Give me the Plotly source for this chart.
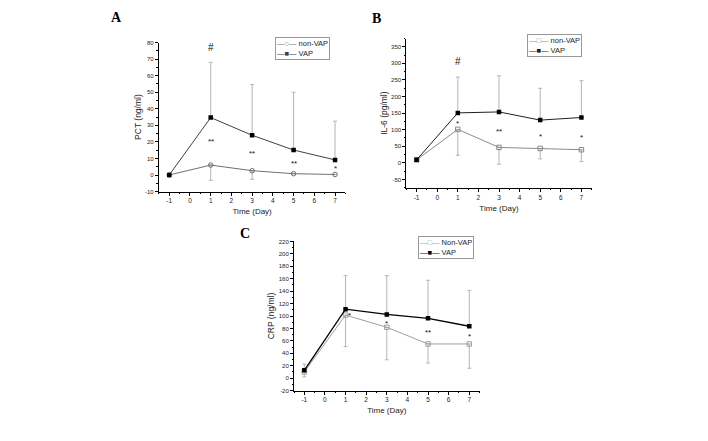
import plotly.graph_objects as go

# ---------------- data ----------------
days = [-1, 1, 3, 5, 7]

# Panel A: PCT (ng/ml)
pct_nonvap = [0, 6.0, 2.6, 0.8, 0.3]
pct_nonvap_lo = [None, 9.2, 5.2, None, None]
pct_vap = [0, 34.7, 24.0, 15.1, 9.1]
pct_vap_hi = [None, 33.4, 30.6, 34.9, 23.4]

# Panel B: IL-6 (pg/ml)
il6_nonvap = [9, 101, 46.6, 43.6, 39.6]
il6_nonvap_lo = [None, 78, 50.6, 31.6, 35.6]
il6_vap = [9, 150.7, 153.6, 128.9, 136.8]
il6_vap_hi = [None, 108, 109, 96, 111]

# Panel C: CRP (ng/ml)
crp_nonvap = [10, 101.5, 81.9, 55, 55]
crp_nonvap_lo = [8, 50.8, 52.4, 30.7, 39.1]
crp_vap = [12.6, 111, 102.5, 96.2, 83.5]
crp_vap_hi = [10, 54, 62.5, 61.3, 57.7]

# tick values / labels
x_ticks = [-1, 0, 1, 2, 3, 4, 5, 6, 7]
x_ticklabels = ["-1", "0", "1", "2", "3", "4", "5", "6", "7"]
ya_ticks = [-10, 0, 10, 20, 30, 40, 50, 60, 70, 80]
ya_ticklabels = ["-10", "0", "10", "20", "30", "40", "50", "60", "70", "80"]
yb_ticks = [-50, 0, 50, 100, 150, 200, 250, 300, 350]
yb_ticklabels = ["-50", "0", "50", "100", "150", "200", "250", "300", "350"]
yc_ticks = [-20, 0, 20, 40, 60, 80, 100, 120, 140, 160, 180, 200, 220]
yc_ticklabels = ["-20", "0", "20", "40", "60", "80", "100", "120", "140", "160", "180", "200", "220"]

# significance marks (day, y, text)
sig_a = [(1, 78, "#"), (1, 21.6, "**"), (3, 14, "**"), (5, 7.9, "**"), (7, 5, "*")]
sig_b = [(1, 313, "#"), (1, 125, "*"), (3, 100, "**"), (5, 85, "*"), (7, 83, "*")]
sig_c = [(1.2, 104.7, "*"), (3, 90.4, "*"), (5, 76, "**"), (7, 70.8, "*")]

FONT = "Liberation Sans"
OFF = 8               # page body margin
W, H = 700, 433       # figure size so that the page fits 708x441


def px_x(a, b):
    return [(a - OFF) / W, (b - OFF) / W]


def px_y(top, bottom):
    return [1 - (bottom - OFF) / H, 1 - (top - OFF) / H]


fig = go.Figure()

ERR_COL = "#b5b5b5"


def add_pair(xa, ya, nv, nv_lo, v, v_hi, nv_name, nv_sym, nv_col, v_col, v_width):
    fig.add_trace(go.Scatter(
        x=days, y=nv, name=nv_name, mode="lines+markers",
        xaxis=xa, yaxis=ya, showlegend=False,
        line=dict(color=nv_col, width=1),
        marker=dict(symbol=nv_sym, size=4.5, color=nv_col, line=dict(width=1, color=nv_col)),
        error_y=dict(type="data", symmetric=False,
                     array=[0 for e in nv_lo],
                     arrayminus=[0 if e is None else e for e in nv_lo],
                     color=ERR_COL, thickness=1, width=2, visible=True),
    ))
    fig.add_trace(go.Scatter(
        x=days, y=v, name="VAP", mode="lines+markers",
        xaxis=xa, yaxis=ya, showlegend=False,
        line=dict(color=v_col, width=v_width),
        marker=dict(symbol="square", size=4.5, color="#000000"),
        error_y=dict(type="data", symmetric=False,
                     array=[0 if e is None else e for e in v_hi],
                     arrayminus=[0 for e in v_hi],
                     color=ERR_COL, thickness=1, width=2, visible=True),
    ))


add_pair("x", "y", pct_nonvap, pct_nonvap_lo, pct_vap, pct_vap_hi,
         "non-VAP", "circle-open", "#707070", "#404040", 1)
add_pair("x2", "y2", il6_nonvap, il6_nonvap_lo, il6_vap, il6_vap_hi,
         "non-VAP", "square-open", "#8a8a8a", "#202020", 1)
add_pair("x3", "y3", crp_nonvap, crp_nonvap_lo, crp_vap, crp_vap_hi,
         "Non-VAP", "square-open", "#a0a0a0", "#000000", 1.3)


def xaxis(domain, anchor):
    return dict(domain=domain, anchor=anchor, range=[-1.5, 7.5],
                tickmode="array", tickvals=x_ticks, ticktext=x_ticklabels,
                showline=True, linecolor="black", linewidth=1, showgrid=False, zeroline=False,
                ticks="outside", ticklen=3, tickwidth=1, tickcolor="black",
                minor=dict(ticks="outside", ticklen=1.5, dtick=0.5, tick0=-1, tickcolor="black"),
                tickfont=dict(family=FONT, size=6.5, color="#222"),
                title=dict(text="Time (Day)", font=dict(family=FONT, size=8, color="#222"), standoff=5))


def yaxis(domain, anchor, rng, tv, tt, title):
    dt = tv[1] - tv[0]
    return dict(domain=domain, anchor=anchor, range=rng,
                tickmode="array", tickvals=tv, ticktext=tt,
                showline=True, linecolor="black", linewidth=1, showgrid=False, zeroline=False,
                ticks="outside", ticklen=3, tickwidth=1, tickcolor="black",
                minor=dict(ticks="outside", ticklen=1.5, dtick=dt / 2, tick0=0, tickcolor="black"),
                tickfont=dict(family=FONT, size=6, color="#222"),
                title=dict(text=title, font=dict(family=FONT, size=8.5, color="#222"), standoff=2))


ann = []
for xr, yr, sig in (("x", "y", sig_a), ("x2", "y2", sig_b), ("x3", "y3", sig_c)):
    for d, yv, t in sig:
        ann.append(dict(x=d, y=yv, xref=xr, yref=yr, text=t, showarrow=False,
                        font=dict(family=FONT, size=10 if t == "#" else 8, color="#111"),
                        yshift=-2))

for lx, ly, t in ((116, 15, "A"), (376, 15.5, "B"), (245, 234, "C")):
    ann.append(dict(x=(lx - OFF) / W, y=1 - (ly - OFF) / H, xref="paper", yref="paper",
                    text="<b>%s</b>" % t, showarrow=False, xanchor="center", yanchor="middle",
                    font=dict(family="Liberation Serif", size=14, color="black")))


def legend_box(right, top, nv_name, nv_glyph, nv_col, v_col):
    txt = ("<span style='color:%s'>—%s—</span> %s<br>"
           "<span style='color:%s'>—■—</span> VAP") % (nv_col, nv_glyph, nv_name, v_col)
    return dict(x=(right - OFF) / W, y=1 - (top - OFF) / H, xref="paper", yref="paper",
                xanchor="right", yanchor="top", align="left", showarrow=False,
                text=txt, bgcolor="white", bordercolor="#999", borderwidth=1, borderpad=1,
                font=dict(family=FONT, size=7.5, color="#222"))


ann.append(legend_box(330, 34, "non-VAP", "○", "#707070", "#404040"))
ann.append(legend_box(582, 31.5, "non-VAP", "□", "#8a8a8a", "#202020"))
ann.append(legend_box(474, 236, "Non-VAP", "□", "#a0a0a0", "#000000"))

fig.update_layout(
    width=W, height=H, margin=dict(l=0, r=0, t=0, b=0),
    paper_bgcolor="white", plot_bgcolor="white", showlegend=False,
    xaxis=xaxis(px_x(158.9, 345.4), "y"),
    yaxis=yaxis(px_y(40, 191.1), "x", [-10, 80], ya_ticks, ya_ticklabels, "PCT (ng/ml)"),
    xaxis2=xaxis(px_x(406.3, 591.7), "y2"),
    yaxis2=yaxis(px_y(35.9, 187.2), "x2", [-75, 375], yb_ticks, yb_ticklabels, "IL-6 (pg/ml)"),
    xaxis3=xaxis(px_x(294, 479.6), "y3"),
    yaxis3=yaxis(px_y(241.7, 392.9), "x3", [-20, 220], yc_ticks, yc_ticklabels, "CRP (ng/ml)"),
    annotations=ann,
)

fig.write_html("out.html")
